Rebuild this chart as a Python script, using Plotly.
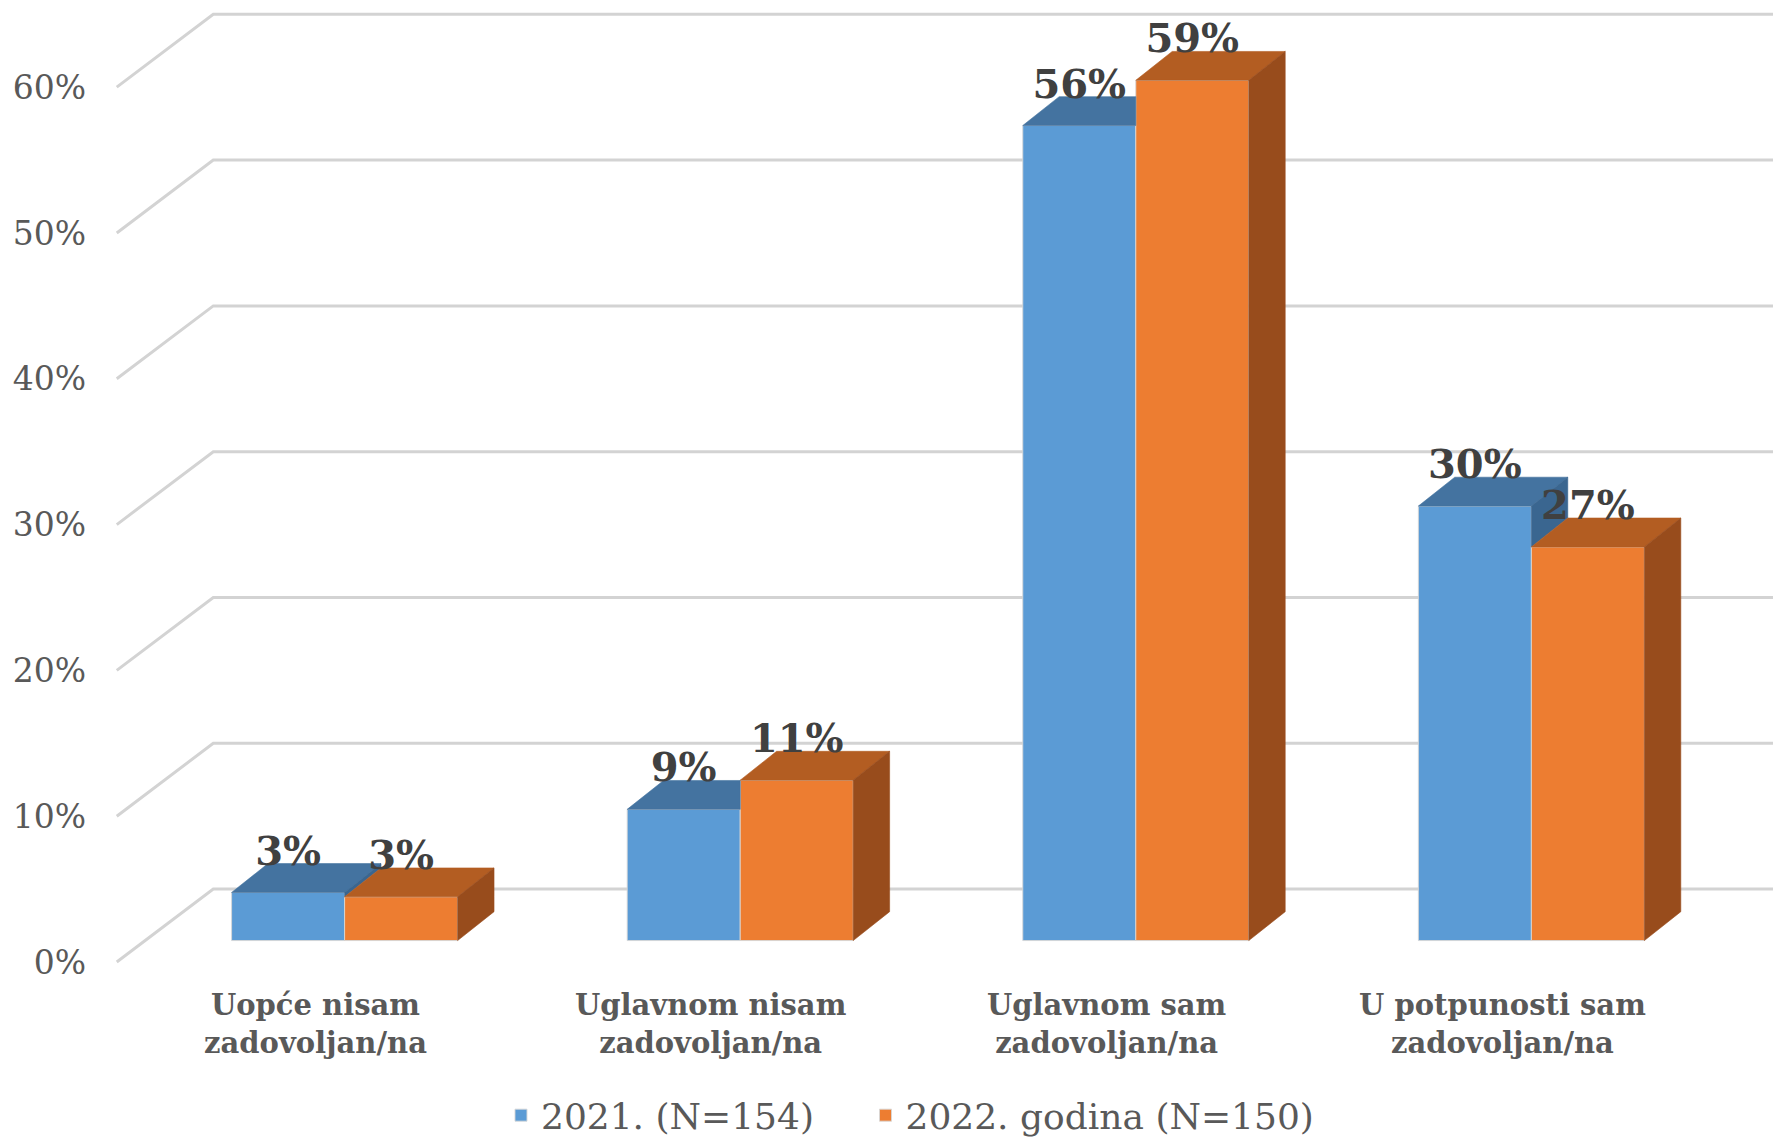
import plotly.graph_objects as go

# ---- data ----
categories = ["Uopće nisam<br>zadovoljan/na", "Uglavnom nisam<br>zadovoljan/na",
              "Uglavnom sam<br>zadovoljan/na", "U potpunosti sam<br>zadovoljan/na"]
series_names = ["2021. (N=154)", "2022. godina (N=150)"]
values_2021 = [3.3, 9.0, 55.9, 29.8]
values_2022 = [3.0, 11.0, 59.0, 27.0]
tick_values = [0, 10, 20, 30, 40, 50, 60]
tick_labels = ["0%", "10%", "20%", "30%", "40%", "50%", "60%"]

# ---- style / geometry ----
W = 0.2857          # bar width (category units)
DX, DY = 0.092, 1.98  # 3D depth offset (x units, % units)
BACK_DY = 3.53      # back wall offset in %
FRONT_DY = -1.47    # front tip of gridline in %
X_BACK, X_FRONT = -0.332, -0.576
XMIN, XMAX = -0.631, 3.631
YMIN, YMAX = -13.61, 63.96

BLUE, BLUE_TOP, BLUE_SIDE = "#5b9bd5", "#4473a0", "#3a6690"
ORANGE, ORANGE_TOP, ORANGE_SIDE = "#ed7d31", "#b35d22", "#984c1c"
SERIF = "DejaVu Serif"

fig = go.Figure()

# back-wall gridlines
shapes = []
for t in tick_values:
    yb = t + BACK_DY
    yf = t + FRONT_DY
    shapes.append(dict(type="path", xref="x", yref="y", layer="below",
                       path=f"M {X_FRONT},{yf} L {X_BACK},{yb} L {XMAX},{yb}",
                       line=dict(color="#d3d3d3", width=3)))

xs = list(range(len(categories)))

# front faces as bars
fig.add_trace(go.Bar(x=xs, y=values_2021, width=W, offset=-W, name=series_names[0], legend="legend",
                     marker=dict(color=BLUE, line=dict(color="rgba(215,215,215,0.9)", width=1))))
fig.add_trace(go.Bar(x=xs, y=values_2022, width=W, offset=0, name=series_names[1], legend="legend2",
                     marker=dict(color=ORANGE, line=dict(color="rgba(215,215,215,0.9)", width=1))))


def poly_trace(px, py, color):
    return go.Scatter(x=px, y=py, mode="lines", fill="toself", fillcolor=color,
                      line=dict(width=0.6, color=color), hoverinfo="skip", showlegend=False)


ot_x, ot_y, os_x, os_y, bt_x, bt_y, bs_x, bs_y = [], [], [], [], [], [], [], []
for g, vb, vo in zip(xs, values_2021, values_2022):
    xl, xr = g - W, g
    # orange top & side (full)
    ot_x += [xr, xr + W, xr + W + DX, xr + DX, xr, None]
    ot_y += [vo, vo, vo + DY, vo + DY, vo, None]
    xo = xr + W
    os_x += [xo, xo + DX, xo + DX, xo, xo, None]
    os_y += [0, DY, vo + DY, vo, 0, None]
    # blue top (clipped by orange block)
    if vo < vb:
        bt_x += [xl, xr, xr + DX, xl + DX, xl, None]
        bt_y += [vb, vb, vb + DY, vb + DY, vb, None]
    elif vo >= vb + DY:
        bt_x += [xl, xr, xr, xl + DX, xl, None]
        bt_y += [vb, vb, vb + DY, vb + DY, vb, None]
    else:
        xc = xr + (vb + DY - vo) * DX / DY
        bt_x += [xl, xr, xr, xc, xl + DX, xl, None]
        bt_y += [vb, vb, vo, vb + DY, vb + DY, vb, None]
    # blue side (visible part above orange)
    if vb > vo:
        bs_x += [xr, xr + DX, xr + DX, xr, xr, None]
        bs_y += [vo, vo + DY, vb + DY, vb, vo, None]

fig.add_trace(poly_trace(bt_x, bt_y, BLUE_TOP))
if bs_x:
    fig.add_trace(poly_trace(bs_x, bs_y, BLUE_SIDE))
fig.add_trace(poly_trace(ot_x, ot_y, ORANGE_TOP))
fig.add_trace(poly_trace(os_x, os_y, ORANGE_SIDE))

# data labels
lab_x = [g - W / 2 for g in xs] + [g + W / 2 for g in xs]
vals = values_2021 + values_2022
fig.add_trace(go.Scatter(x=lab_x, y=[v + 2.6 for v in vals], mode="text",
                         text=[f"{round(v)}%" for v in vals],
                         textfont=dict(family=SERIF, size=40, color="#404040", weight="bold"),
                         hoverinfo="skip", showlegend=False))

# category labels
annotations = []
for g, c in zip(xs, categories):
    annotations.append(dict(x=g - 0.073, y=-5.74, xref="x", yref="y", text=c, showarrow=False,
                            font=dict(family=SERIF, size=29, color="#595959", weight="bold"),
                            align="center", xanchor="center", yanchor="middle"))

legend_common = dict(orientation="h", y=0.021, yanchor="middle", xanchor="left",
                     font=dict(family=SERIF, size=36, color="#595959"),
                     bgcolor="rgba(0,0,0,0)", itemwidth=30)

fig.update_layout(
    width=1773, height=1131,
    margin=dict(l=87, r=0, t=0, b=0, autoexpand=False),
    paper_bgcolor="white", plot_bgcolor="white",
    barmode="overlay",
    shapes=shapes, annotations=annotations,
    xaxis=dict(range=[XMIN, XMAX], visible=False, fixedrange=True),
    yaxis=dict(range=[YMIN, YMAX], showgrid=False, zeroline=False, showline=False,
               tickmode="array", tickvals=[t + FRONT_DY for t in tick_values], ticktext=tick_labels,
               ticks="", ticklabelstandoff=8, automargin=False,
               tickfont=dict(family=SERIF, size=33, color="#595959")),
    legend=dict(x=0.2408, **legend_common),
    legend2=dict(x=0.457, **legend_common),
    showlegend=True,
)

fig.write_html("out.html")
